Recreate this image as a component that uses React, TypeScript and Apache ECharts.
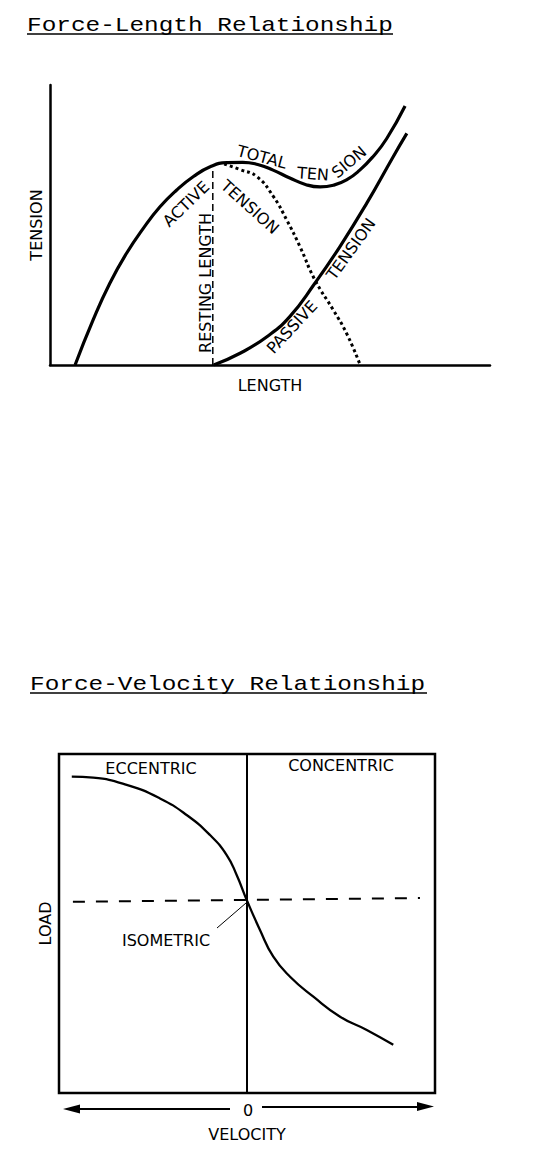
import React, { useEffect, useRef } from "react";
import * as echarts from "echarts";

// ---------- Force-Length data (x: length 0-100, y: tension 0-100) ----------
const activeRise = [
  [5.7, 0], [9.8, 16.1], [13.6, 29.2], [17.4, 39.9], [21.2, 48.8], [25.0, 56.5],
  [28.8, 62.5], [32.6, 67.3], [36.4, 70.8], [40.2, 72.3],
];
const totalTension = [
  [43.8, 72.4], [47.2, 71.6], [50.7, 69.6], [54.5, 66.8], [58.2, 64.4], [61.4, 63.6],
  [64.4, 64.2], [67.4, 66.1], [70.4, 69.6], [73.4, 74.4], [76.5, 80.8], [80.7, 92.5],
];
const activeFall = [
  [39.6, 71.8], [43.2, 69.8], [47.0, 67.3], [50.8, 60.1], [53.8, 51.8], [56.8, 42.3],
  [60.2, 30.4], [64.4, 19.6], [67.4, 11.3], [70.5, 0],
];
const passiveTension = [
  [37.2, 0], [43.2, 4.2], [49.3, 10.1], [54.5, 17.3], [60.2, 29.2], [65.9, 42.3],
  [72.0, 57.8], [78.0, 74.4], [81.1, 82.7],
];
const restingLength = [[37.0, 0], [37.0, 70.6]];

// ---------- Force-Velocity data (x: velocity -100..100, y: load 0-100) ----------
const forceVelocity = [
  [-93.2, 93.3], [-81.8, 93.0], [-64.0, 90.9], [-46.3, 86.9], [-32.1, 82.0], [-19.7, 76.1],
  [-10.8, 70.2], [-5.5, 64.3], [-0.2, 57.0], [6.9, 48.1], [14.0, 40.2], [22.9, 34.3],
  [35.3, 28.4], [49.5, 22.5], [63.7, 18.6], [77.8, 14.2],
];
const isometricLoad = [[-92.6, 56.4], [92.0, 57.5]];
const zeroVelocity = [[0, 0], [0, 100]];

const FONT = "DejaVu Sans";
const MONO = "Liberation Mono";

function label(text: string, x: number, y: number, deg = 0, size = 16) {
  return {
    type: "text",
    x,
    y,
    rotation: (deg * Math.PI) / 180,
    silent: true,
    style: {
      text,
      fill: "#000",
      font: `${size}px "${FONT}"`,
      align: "center",
      verticalAlign: "middle",
    },
  };
}

function title(text: string, x: number, y: number, width: number) {
  return [
    {
      type: "text",
      x,
      y,
      scaleX: 1.22,
      silent: true,
      style: {
        text,
        fill: "#000",
        font: `20px "${MONO}"`,
        align: "left",
        verticalAlign: "middle",
      },
    },
    {
      type: "line",
      silent: true,
      shape: { x1: x, y1: y + 8, x2: x + width, y2: y + 8 },
      style: { stroke: "#000", lineWidth: 1.5 },
    },
  ];
}

export default function App() {
  const ref = useRef<HTMLDivElement>(null);

  useEffect(() => {
    document.body.style.margin = "0";
    if (!ref.current) return;
    const chart = echarts.init(ref.current, null, { renderer: "svg" });

    const axisName = { fontFamily: FONT, fontSize: 16, color: "#000" };
    const hiddenBits = {
      axisTick: { show: false },
      axisLabel: { show: false },
      splitLine: { show: false },
    };
    const curve = { smooth: 0.5, showSymbol: false, silent: true };

    chart.setOption({
      animation: false,
      backgroundColor: "#fff",
      grid: [
        { left: 50, top: 85, width: 440, height: 280 },
        {
          left: 59, top: 754, width: 376, height: 339,
          show: true, borderColor: "#000", borderWidth: 2.5, backgroundColor: "transparent",
        },
      ],
      xAxis: [
        {
          gridIndex: 0, type: "value", min: 0, max: 100,
          axisLine: { show: true, onZero: false, lineStyle: { color: "#000", width: 2.5 } },
          name: "LENGTH", nameLocation: "middle", nameGap: 12, nameTextStyle: axisName,
          ...hiddenBits,
        },
        {
          gridIndex: 1, type: "value", min: -100, max: 100,
          axisLine: { show: false },
          name: "VELOCITY", nameLocation: "middle", nameGap: 33, nameTextStyle: axisName,
          ...hiddenBits,
        },
      ],
      yAxis: [
        {
          gridIndex: 0, type: "value", min: 0, max: 100,
          axisLine: { show: true, onZero: false, lineStyle: { color: "#000", width: 2.5 } },
          name: "TENSION", nameLocation: "middle", nameGap: 6, nameRotate: 90, nameTextStyle: axisName,
          ...hiddenBits,
        },
        {
          gridIndex: 1, type: "value", min: 0, max: 100,
          axisLine: { show: false },
          name: "LOAD", nameLocation: "middle", nameGap: 6, nameRotate: 90, nameTextStyle: axisName,
          ...hiddenBits,
        },
      ],
      series: [
        {
          name: "Active + Total Tension", type: "line", xAxisIndex: 0, yAxisIndex: 0,
          data: [...activeRise, ...totalTension], ...curve,
          lineStyle: { color: "#000", width: 3.2 },
        },
        {
          name: "Active Tension (descending)", type: "line", xAxisIndex: 0, yAxisIndex: 0,
          data: activeFall, ...curve,
          lineStyle: { color: "#000", width: 3, type: [3, 3] },
        },
        {
          name: "Passive Tension", type: "line", xAxisIndex: 0, yAxisIndex: 0,
          data: passiveTension, ...curve,
          lineStyle: { color: "#000", width: 3.2 },
        },
        {
          name: "Resting Length", type: "line", xAxisIndex: 0, yAxisIndex: 0,
          data: restingLength, showSymbol: false, silent: true,
          lineStyle: { color: "#000", width: 1.5, type: [7, 4] },
        },
        {
          name: "Force-Velocity", type: "line", xAxisIndex: 1, yAxisIndex: 1,
          data: forceVelocity, ...curve,
          lineStyle: { color: "#000", width: 2.3 },
        },
        {
          name: "Isometric", type: "line", xAxisIndex: 1, yAxisIndex: 1,
          data: isometricLoad, showSymbol: false, silent: true,
          lineStyle: { color: "#000", width: 2, type: [12, 11] },
        },
        {
          name: "Zero velocity", type: "line", xAxisIndex: 1, yAxisIndex: 1,
          data: zeroVelocity, showSymbol: false, silent: true,
          lineStyle: { color: "#000", width: 2 },
        },
      ],
      graphic: [
        ...title("Force-Length Relationship", 27, 26, 366),
        ...title("Force-Velocity Relationship", 30, 685, 397),
        label("ACTIVE", 186, 204, 44),
        label("TENSION", 250, 207, -42),
        label("TOTAL", 262, 157, -15),
        label("TEN", 313, 174, -4),
        label("SION", 349, 162, 40),
        label("RESTING LENGTH", 205, 283, 90),
        label("PASSIVE", 292, 327, 47),
        label("TENSION", 351, 249, 54),
        label("ECCENTRIC", 151, 768),
        label("CONCENTRIC", 341, 765),
        label("ISOMETRIC", 166, 940),
        {
          type: "line", silent: true,
          shape: { x1: 217, y1: 928, x2: 246, y2: 903 },
          style: { stroke: "#000", lineWidth: 1 },
        },
        label("0", 248, 1110),
        {
          type: "line", silent: true,
          shape: { x1: 230, y1: 1109, x2: 74, y2: 1109 },
          style: { stroke: "#000", lineWidth: 2 },
        },
        {
          type: "polygon", silent: true,
          shape: { points: [[63, 1109], [80, 1104.5], [80, 1113.5]] },
          style: { fill: "#000" },
        },
        {
          type: "line", silent: true,
          shape: { x1: 262, y1: 1107, x2: 424, y2: 1107 },
          style: { stroke: "#000", lineWidth: 2 },
        },
        {
          type: "polygon", silent: true,
          shape: { points: [[434, 1106.5], [417, 1102], [417, 1111]] },
          style: { fill: "#000" },
        },
      ],
    });

    return () => chart.dispose();
  }, []);

  return <div ref={ref} style={{ width: 543, height: 1173 }} />;
}
